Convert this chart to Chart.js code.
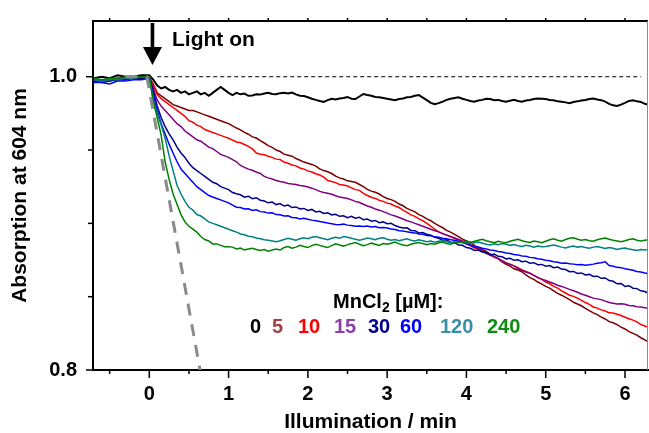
<!DOCTYPE html>
<html>
<head>
<meta charset="utf-8">
<script src="https://cdn.jsdelivr.net/npm/chart.js@4.4.1/dist/chart.umd.min.js"></script>
<style>
html, body { margin: 0; padding: 0; background: #fff; }
#wrap { position: relative; width: 649px; height: 433px; font-family: "Liberation Sans", Arial, Helvetica, sans-serif; font-weight: bold; color: #000; }
#wrap canvas { position: absolute; left: 0; top: 0; }
.note { position: absolute; font-size: 21px; line-height: 21px; white-space: nowrap; }
.num { position: absolute; top: 316px; font-size: 20px; line-height: 21px; }
sub { font-size: 14px; vertical-align: -4px; line-height: 0; }
</style>
</head>
<body>
<div id="wrap">
  <canvas id="chart" width="649" height="433"></canvas>
  <div class="note" style="left:172px; top:28px;">Light on</div>
  <div class="note" style="left:333px; top:291px; font-size:20px;">MnCl<sub>2</sub> [µM]:</div>
  <div id="legendNums"></div>
</div>
<script>
// ---------- DATA ----------
// time axis (min), shared by all traces
const times = [
  -0.7, -0.6, -0.5, -0.4, -0.3, -0.2, -0.1, 0,
  0.05, 0.1, 0.15, 0.2, 0.25, 0.3, 0.35, 0.4, 0.45, 0.5,
  0.55, 0.6, 0.65, 0.7, 0.75, 0.8, 0.85, 0.9, 0.95, 1.0,
  1.05, 1.1, 1.15, 1.2, 1.25, 1.3, 1.35, 1.4, 1.45, 1.5,
  1.55, 1.6, 1.65, 1.7, 1.75, 1.8, 1.85, 1.9, 1.95, 2.0,
  2.05, 2.1, 2.15, 2.2, 2.25, 2.3, 2.35, 2.4, 2.45, 2.5,
  2.55, 2.6, 2.65, 2.7, 2.75, 2.8, 2.85, 2.9, 2.95, 3.0,
  3.05, 3.1, 3.15, 3.2, 3.25, 3.3, 3.35, 3.4, 3.45, 3.5,
  3.55, 3.6, 3.65, 3.7, 3.75, 3.8, 3.85, 3.9, 3.95, 4.0,
  4.05, 4.1, 4.15, 4.2, 4.25, 4.3, 4.35, 4.4, 4.45, 4.5,
  4.55, 4.6, 4.65, 4.7, 4.75, 4.8, 4.85, 4.9, 4.95, 5.0,
  5.05, 5.1, 5.15, 5.2, 5.25, 5.3, 5.35, 5.4, 5.45, 5.5,
  5.55, 5.6, 5.65, 5.7, 5.75, 5.8, 5.85, 5.9, 5.95, 6.0,
  6.05, 6.1, 6.15, 6.2, 6.25, 6.3
];

const abs0 = [
  0.999, 1.000, 0.999, 1.001, 1.000, 1.000, 1.001, 1.001,
  0.998, 0.994, 0.992, 0.993, 0.991, 0.990, 0.991, 0.989, 0.990, 0.988,
  0.989, 0.990, 0.988, 0.989, 0.987, 0.989, 0.991, 0.993, 0.991, 0.989,
  0.9875, 0.9890, 0.9880, 0.9885, 0.9870, 0.9872, 0.9880, 0.9878, 0.9885, 0.9890,
  0.9882, 0.9880, 0.9888, 0.9890, 0.9885, 0.9892, 0.9880, 0.9870, 0.9868, 0.9860,
  0.9850, 0.9842, 0.9835, 0.9828, 0.9840, 0.9850, 0.9845, 0.9852, 0.9855, 0.9862,
  0.9850, 0.9848, 0.9865, 0.9882, 0.9875, 0.9870, 0.9862, 0.9860, 0.9855, 0.9850,
  0.9845, 0.9840, 0.9848, 0.9852, 0.9860, 0.9862, 0.9870, 0.9875, 0.9858, 0.9840,
  0.9822, 0.9812, 0.9820, 0.9830, 0.9842, 0.9850, 0.9855, 0.9860, 0.9850, 0.9842,
  0.9835, 0.9830, 0.9838, 0.9842, 0.9850, 0.9848, 0.9840, 0.9842, 0.9835, 0.9830,
  0.9836, 0.9842, 0.9835, 0.9830, 0.9838, 0.9842, 0.9848, 0.9852, 0.9850, 0.9848,
  0.9842, 0.9840, 0.9832, 0.9830, 0.9825, 0.9820, 0.9828, 0.9832, 0.9838, 0.9842,
  0.9848, 0.9852, 0.9845, 0.9840, 0.9830, 0.9815, 0.9805, 0.9800, 0.9810, 0.9822,
  0.9835, 0.9840, 0.9832, 0.9828, 0.9815, 0.9810
];
const abs5 = [
  0.998, 0.997, 0.998, 0.999, 0.999, 1.000, 0.999, 1.000,
  0.995, 0.989, 0.987, 0.985, 0.983, 0.981, 0.980, 0.979, 0.978, 0.977,
  0.977, 0.976, 0.975, 0.974, 0.973, 0.972, 0.971, 0.970, 0.969, 0.968,
  0.9665, 0.9650, 0.9638, 0.9620, 0.9608, 0.9590, 0.9582, 0.9565, 0.9548, 0.9530,
  0.9518, 0.9500, 0.9490, 0.9472, 0.9465, 0.9458, 0.9442, 0.9430, 0.9418, 0.9410,
  0.9402, 0.9390, 0.9372, 0.9360, 0.9352, 0.9340, 0.9322, 0.9310, 0.9302, 0.9290,
  0.9285, 0.9280, 0.9265, 0.9250, 0.9232, 0.9220, 0.9212, 0.9200, 0.9182, 0.9170,
  0.9162, 0.9150, 0.9132, 0.9120, 0.9102, 0.9090, 0.9078, 0.9060, 0.9048, 0.9030,
  0.9018, 0.9000, 0.8985, 0.8970, 0.8952, 0.8940, 0.8925, 0.8910, 0.8892, 0.8880,
  0.8868, 0.8850, 0.8835, 0.8820, 0.8808, 0.8790, 0.8772, 0.8760, 0.8738, 0.8720,
  0.8708, 0.8690, 0.8682, 0.8670, 0.8648, 0.8630, 0.8618, 0.8600, 0.8585, 0.8570,
  0.8558, 0.8540, 0.8522, 0.8510, 0.8495, 0.8480, 0.8462, 0.8450, 0.8438, 0.8420,
  0.8405, 0.8390, 0.8378, 0.8360, 0.8348, 0.8330, 0.8322, 0.8310, 0.8292, 0.8280,
  0.8262, 0.8250, 0.8238, 0.8220, 0.8205, 0.8190
];
const abs10 = [
  0.997, 0.998, 0.997, 0.999, 0.998, 1.000, 0.999, 1.000,
  0.994, 0.988, 0.985, 0.983, 0.981, 0.979, 0.977, 0.975, 0.973, 0.970,
  0.969, 0.967, 0.966, 0.964, 0.963, 0.962, 0.961, 0.960, 0.959, 0.958,
  0.9568, 0.9555, 0.9550, 0.9538, 0.9525, 0.9508, 0.9480, 0.9472, 0.9468, 0.9458,
  0.9450, 0.9438, 0.9435, 0.9418, 0.9410, 0.9398, 0.9392, 0.9378, 0.9370, 0.9358,
  0.9350, 0.9338, 0.9330, 0.9315, 0.9292, 0.9285, 0.9278, 0.9265, 0.9262, 0.9255,
  0.9242, 0.9230, 0.9225, 0.9205, 0.9190, 0.9178, 0.9170, 0.9158, 0.9150, 0.9138,
  0.9132, 0.9118, 0.9108, 0.9090, 0.9075, 0.9058, 0.9048, 0.9030, 0.9018, 0.9000,
  0.8982, 0.8960, 0.8942, 0.8930, 0.8920, 0.8908, 0.8898, 0.8888, 0.8875, 0.8860,
  0.8848, 0.8832, 0.8825, 0.8810, 0.8795, 0.8782, 0.8772, 0.8760, 0.8742, 0.8730,
  0.8722, 0.8710, 0.8698, 0.8682, 0.8672, 0.8660, 0.8645, 0.8632, 0.8618, 0.8600,
  0.8588, 0.8570, 0.8558, 0.8540, 0.8525, 0.8510, 0.8502, 0.8490, 0.8475, 0.8460,
  0.8448, 0.8430, 0.8422, 0.8410, 0.8402, 0.8390, 0.8388, 0.8380, 0.8372, 0.8360,
  0.8350, 0.8340, 0.8328, 0.8310, 0.8300, 0.8290
];
const abs15 = [
  0.998, 0.997, 0.998, 0.998, 0.999, 0.999, 1.000, 1.000,
  0.992, 0.984, 0.980, 0.977, 0.974, 0.971, 0.968, 0.966, 0.963, 0.961,
  0.959, 0.957, 0.956, 0.954, 0.952, 0.951, 0.949, 0.947, 0.946, 0.945,
  0.9435, 0.9420, 0.9395, 0.9382, 0.9370, 0.9362, 0.9350, 0.9340, 0.9320, 0.9310,
  0.9302, 0.9292, 0.9285, 0.9280, 0.9272, 0.9268, 0.9265, 0.9258, 0.9255, 0.9248,
  0.9240, 0.9230, 0.9218, 0.9210, 0.9205, 0.9198, 0.9188, 0.9180, 0.9175, 0.9170,
  0.9160, 0.9150, 0.9142, 0.9130, 0.9118, 0.9110, 0.9098, 0.9090, 0.9080, 0.9070,
  0.9058, 0.9050, 0.9040, 0.9030, 0.9018, 0.9010, 0.9000, 0.8990, 0.8980, 0.8970,
  0.8960, 0.8950, 0.8942, 0.8930, 0.8920, 0.8910, 0.8900, 0.8890, 0.8880, 0.8868,
  0.8855, 0.8840, 0.8825, 0.8810, 0.8800, 0.8790, 0.8772, 0.8760, 0.8745, 0.8730,
  0.8720, 0.8710, 0.8692, 0.8680, 0.8668, 0.8660, 0.8645, 0.8630, 0.8620, 0.8610,
  0.8600, 0.8590, 0.8578, 0.8570, 0.8560, 0.8550, 0.8540, 0.8530, 0.8518, 0.8510,
  0.8500, 0.8490, 0.8485, 0.8480, 0.8470, 0.8460, 0.8455, 0.8450, 0.8452, 0.8448,
  0.8440, 0.8438, 0.8432, 0.8430, 0.8425, 0.8420
];
const abs30 = [
  0.997, 0.996, 0.997, 0.998, 0.998, 0.999, 0.999, 1.000,
  0.990, 0.980, 0.972, 0.966, 0.961, 0.957, 0.952, 0.948, 0.945, 0.941,
  0.938, 0.936, 0.934, 0.932, 0.930, 0.928, 0.927, 0.925, 0.924, 0.923,
  0.9210, 0.9202, 0.9195, 0.9178, 0.9185, 0.9168, 0.9175, 0.9158, 0.9152, 0.9140,
  0.9145, 0.9128, 0.9135, 0.9118, 0.9125, 0.9108, 0.9112, 0.9098, 0.9102, 0.9088,
  0.9095, 0.9078, 0.9082, 0.9068, 0.9072, 0.9058, 0.9062, 0.9048, 0.9052, 0.9038,
  0.9048, 0.9035, 0.9042, 0.9025, 0.9030, 0.9015, 0.9020, 0.9005, 0.9010, 0.8998,
  0.9000, 0.8985, 0.8975, 0.8968, 0.8970, 0.8952, 0.8950, 0.8935, 0.8938, 0.8925,
  0.8920, 0.8905, 0.8898, 0.8885, 0.8888, 0.8870, 0.8868, 0.8852, 0.8850, 0.8835,
  0.8830, 0.8815, 0.8818, 0.8805, 0.8800, 0.8785, 0.8790, 0.8775, 0.8772, 0.8758,
  0.8762, 0.8748, 0.8752, 0.8738, 0.8742, 0.8728, 0.8732, 0.8718, 0.8720, 0.8708,
  0.8712, 0.8698, 0.8702, 0.8688, 0.8685, 0.8670, 0.8672, 0.8658, 0.8662, 0.8648,
  0.8652, 0.8638, 0.8640, 0.8625, 0.8628, 0.8610, 0.8605, 0.8588, 0.8590, 0.8570,
  0.8575, 0.8558, 0.8555, 0.8540, 0.8535, 0.8522
];
const abs60 = [
  0.996, 0.996, 0.995, 0.997, 0.997, 0.998, 0.998, 0.999,
  0.988, 0.977, 0.968, 0.961, 0.954, 0.948, 0.942, 0.937, 0.934, 0.931,
  0.928, 0.925, 0.923, 0.921, 0.919, 0.918, 0.917, 0.916, 0.915, 0.914,
  0.9125, 0.9110, 0.9108, 0.9098, 0.9100, 0.9088, 0.9092, 0.9080, 0.9078, 0.9070,
  0.9072, 0.9060, 0.9058, 0.9050, 0.9052, 0.9040, 0.9038, 0.9030, 0.9035, 0.9028,
  0.9022, 0.9018, 0.9012, 0.9008, 0.9002, 0.8998, 0.8992, 0.8990, 0.8995, 0.8988,
  0.8985, 0.8980, 0.8982, 0.8978, 0.8982, 0.8975, 0.8978, 0.8970, 0.8972, 0.8968,
  0.8962, 0.8958, 0.8950, 0.8948, 0.8942, 0.8938, 0.8935, 0.8928, 0.8925, 0.8918,
  0.8915, 0.8908, 0.8905, 0.8898, 0.8895, 0.8888, 0.8885, 0.8878, 0.8870, 0.8860,
  0.8850, 0.8840, 0.8838, 0.8830, 0.8825, 0.8818, 0.8815, 0.8808, 0.8805, 0.8798,
  0.8795, 0.8788, 0.8785, 0.8778, 0.8775, 0.8768, 0.8765, 0.8758, 0.8755, 0.8748,
  0.8745, 0.8738, 0.8735, 0.8728, 0.8730, 0.8725, 0.8722, 0.8718, 0.8720, 0.8715,
  0.8718, 0.8722, 0.8728, 0.8732, 0.8738, 0.8712, 0.8708, 0.8700, 0.8698, 0.8690,
  0.8685, 0.8680, 0.8672, 0.8668, 0.8662, 0.8658
];
const abs120 = [
  0.998, 0.997, 0.998, 0.998, 0.999, 0.999, 1.000, 1.000,
  0.984, 0.975, 0.967, 0.958, 0.946, 0.936, 0.926, 0.920, 0.915, 0.911,
  0.909, 0.906, 0.905, 0.903, 0.901, 0.900, 0.899, 0.898, 0.897, 0.896,
  0.8950, 0.8940, 0.8928, 0.8922, 0.8912, 0.8908, 0.8900, 0.8895, 0.8888, 0.8885,
  0.8880, 0.8875, 0.8882, 0.8890, 0.8898, 0.8892, 0.8885, 0.8895, 0.8902, 0.8895,
  0.8905, 0.8910, 0.8902, 0.8895, 0.8888, 0.8898, 0.8905, 0.8898, 0.8910, 0.8905,
  0.8898, 0.8892, 0.8885, 0.8892, 0.8900, 0.8895, 0.8888, 0.8898, 0.8902, 0.8892,
  0.8885, 0.8890, 0.8882, 0.8888, 0.8895, 0.8885, 0.8880, 0.8888, 0.8882, 0.8875,
  0.8880, 0.8872, 0.8878, 0.8882, 0.8875, 0.8870, 0.8875, 0.8868, 0.8872, 0.8868,
  0.8862, 0.8868, 0.8872, 0.8865, 0.8858, 0.8852, 0.8860, 0.8855, 0.8862, 0.8858,
  0.8850, 0.8855, 0.8848, 0.8842, 0.8850, 0.8845, 0.8838, 0.8845, 0.8840, 0.8842,
  0.8848, 0.8852, 0.8845, 0.8838, 0.8832, 0.8840, 0.8845, 0.8838, 0.8842, 0.8835,
  0.8830, 0.8838, 0.8842, 0.8835, 0.8828, 0.8835, 0.8830, 0.8822, 0.8828, 0.8832,
  0.8825, 0.8820, 0.8815, 0.8822, 0.8818, 0.8820
];
const abs240 = [
  0.999, 0.998, 0.999, 0.999, 1.000, 1.000, 1.000, 1.000,
  0.983, 0.972, 0.960, 0.942, 0.930, 0.920, 0.913, 0.906, 0.901, 0.898,
  0.896, 0.894, 0.891, 0.889, 0.888, 0.886, 0.886, 0.885, 0.884, 0.884,
  0.8838, 0.8825, 0.8832, 0.8818, 0.8825, 0.8830, 0.8822, 0.8815, 0.8822, 0.8810,
  0.8818, 0.8825, 0.8818, 0.8835, 0.8842, 0.8830, 0.8838, 0.8850, 0.8842, 0.8835,
  0.8848, 0.8858, 0.8850, 0.8842, 0.8835, 0.8848, 0.8860, 0.8852, 0.8845, 0.8855,
  0.8862, 0.8870, 0.8858, 0.8848, 0.8855, 0.8865, 0.8858, 0.8850, 0.8862, 0.8858,
  0.8865, 0.8872, 0.8860, 0.8852, 0.8848, 0.8858, 0.8865, 0.8870, 0.8862, 0.8855,
  0.8862, 0.8858, 0.8868, 0.8872, 0.8862, 0.8858, 0.8868, 0.8875, 0.8870, 0.8880,
  0.8872, 0.8878, 0.8885, 0.8892, 0.8882, 0.8875, 0.8868, 0.8878, 0.8872, 0.8868,
  0.8878, 0.8885, 0.8892, 0.8882, 0.8875, 0.8870, 0.8880, 0.8875, 0.8868, 0.8878,
  0.8888, 0.8895, 0.8885, 0.8878, 0.8890, 0.8898, 0.8902, 0.8892, 0.8885, 0.8890,
  0.8882, 0.8878, 0.8888, 0.8895, 0.8900, 0.8892, 0.8885, 0.8880, 0.8875, 0.8882,
  0.8890, 0.8895, 0.8885, 0.8880, 0.8885, 0.8890
];

// reference lines
const baseX = [0.1, 6.2];
const baseY = [1.0, 1.0];
const slopeX = [-0.3, -0.03, 0.64];
const slopeY = [1.0, 1.0, 0.8];

// legend
const concLabels = ['0', '5', '10', '15', '30', '60', '120', '240'];
const concLeft = [250, 272, 298, 334, 368, 400, 440, 487];
const concColors = ['#000000', '#a04040', '#ff0000', '#8a3fa8', '#00008b', '#0000ff', '#3a8fa5', '#118a11'];

// ticks
const xTickVals = [-0.5, 0, 0.5, 1, 1.5, 2, 2.5, 3, 3.5, 4, 4.5, 5, 5.5, 6];
const yTickVals = [0.8, 0.85, 0.9, 0.95, 1.0];

const FONT = '"Liberation Sans", Arial, Helvetica, sans-serif';

// ---------- HELPERS ----------
function pts(xs, ys) {
  return xs.map((x, i) => ({ x: x, y: ys[i] }));
}
function trace(label, ys, color, order, width) {
  return {
    label: label,
    data: pts(times, ys),
    borderColor: color,
    borderWidth: width || 1.5,
    pointRadius: 0,
    tension: 0,
    fill: false,
    order: order
  };
}

// ---------- FRAME / ARROW ----------
const framePlugin = {
  id: 'frame',
  afterDraw(chart) {
    const ctx = chart.ctx;
    const a = chart.chartArea;
    const x = chart.scales.x;
    const y = chart.scales.y;
    ctx.save();
    // top and right frame
    ctx.strokeStyle = '#000';
    ctx.lineWidth = 2;
    ctx.beginPath();
    ctx.moveTo(a.left - 1, a.top);
    ctx.lineTo(a.right, a.top);
    ctx.stroke();
    ctx.strokeStyle = '#8c8c8c';
    ctx.lineWidth = 1;
    ctx.beginPath();
    ctx.moveTo(a.right - 0.5, a.top);
    ctx.lineTo(a.right - 0.5, a.bottom);
    ctx.stroke();
    // tick marks
    ctx.strokeStyle = '#000';
    ctx.lineWidth = 1.5;
    xTickVals.forEach(v => {
      const px = x.getPixelForValue(v);
      const len = Number.isInteger(v) ? 8 : 4;
      ctx.beginPath();
      ctx.moveTo(px, a.bottom);
      ctx.lineTo(px, a.bottom + len);
      ctx.moveTo(px, a.top);
      ctx.lineTo(px, a.top - 3);
      ctx.stroke();
    });
    yTickVals.forEach(v => {
      const py = y.getPixelForValue(v);
      const len = (v === 0.8 || v === 1.0) ? 7 : 5;
      ctx.beginPath();
      ctx.moveTo(a.left, py);
      ctx.lineTo(a.left - len, py);
      ctx.stroke();
    });
    // "light on" arrow
    const ax = x.getPixelForValue(0.04);
    ctx.fillStyle = '#000';
    ctx.fillRect(ax - 1.8, 23, 3.6, 26);
    ctx.beginPath();
    ctx.moveTo(ax - 9.5, 47);
    ctx.lineTo(ax + 9.5, 47);
    ctx.lineTo(ax, 65);
    ctx.closePath();
    ctx.fill();
    ctx.restore();
  }
};

// ---------- CHART ----------
const datasets = [
  { label: 'slope', data: pts(slopeX, slopeY), borderColor: '#8a8a8a', borderWidth: 3, borderDash: [12, 9], pointRadius: 0, order: 0 },
  trace('240', abs240, '#008000', 1),
  trace('120', abs120, '#008080', 2),
  trace('60', abs60, '#0000ff', 3),
  trace('30', abs30, '#00008b', 4),
  trace('15', abs15, '#800080', 5),
  trace('10', abs10, '#ff0000', 6),
  trace('5', abs5, '#7a0000', 7),
  trace('0', abs0, '#000000', 8, 2),
  { label: 'base', data: pts(baseX, baseY), borderColor: '#000', borderWidth: 1, borderDash: [4, 3], pointRadius: 0, order: 9 }
];

new Chart(document.getElementById('chart').getContext('2d'), {
  type: 'line',
  data: { datasets: datasets },
  options: {
    responsive: false,
    animation: false,
    layout: { padding: { top: 14, right: 1, left: 0, bottom: 0 } },
    plugins: { legend: { display: false }, tooltip: { enabled: false } },
    scales: {
      x: {
        type: 'linear',
        min: -0.71,
        max: 6.29,
        afterFit: s => { s.height = 63; },
        afterBuildTicks: s => { s.ticks = xTickVals.map(v => ({ value: v })); },
        ticks: {
          autoSkip: false,
          maxRotation: 0,
          padding: 4,
          color: '#000',
          font: { family: FONT, size: 20, weight: 'bold' },
          callback: v => Number.isInteger(v) ? String(v) : ''
        },
        grid: { drawOnChartArea: false, tickLength: 8, tickColor: 'rgba(0,0,0,0)' },
        border: { display: true, color: '#000', width: 2 },
        title: {
          display: true,
          text: 'Illumination / min',
          color: '#000',
          font: { family: FONT, size: 21, weight: 'bold', lineHeight: 1 },
          padding: 0
        }
      },
      y: {
        type: 'linear',
        min: 0.8,
        max: 1.038,
        afterFit: s => { s.width = 93; },
        afterBuildTicks: s => { s.ticks = yTickVals.map(v => ({ value: v })); },
        ticks: {
          autoSkip: false,
          padding: 9,
          color: '#000',
          font: { family: FONT, size: 20, weight: 'bold' },
          callback: v => v === 1 ? '1.0' : (v === 0.8 ? '0.8' : '')
        },
        grid: { drawOnChartArea: false, tickLength: 7, tickColor: 'rgba(0,0,0,0)' },
        border: { display: true, color: '#000', width: 2 },
        title: {
          display: true,
          text: 'Absorption at 604 nm',
          color: '#000',
          font: { family: FONT, size: 21, weight: 'bold', lineHeight: 1 },
          padding: { top: 10, bottom: 0 }
        }
      }
    }
  },
  plugins: [framePlugin]
});

// ---------- LEGEND ----------
const legendBox = document.getElementById('legendNums');
concLabels.forEach((lab, i) => {
  const el = document.createElement('div');
  el.className = 'num';
  el.style.left = concLeft[i] + 'px';
  el.style.color = concColors[i];
  el.textContent = lab;
  legendBox.appendChild(el);
});
</script>
</body>
</html>
